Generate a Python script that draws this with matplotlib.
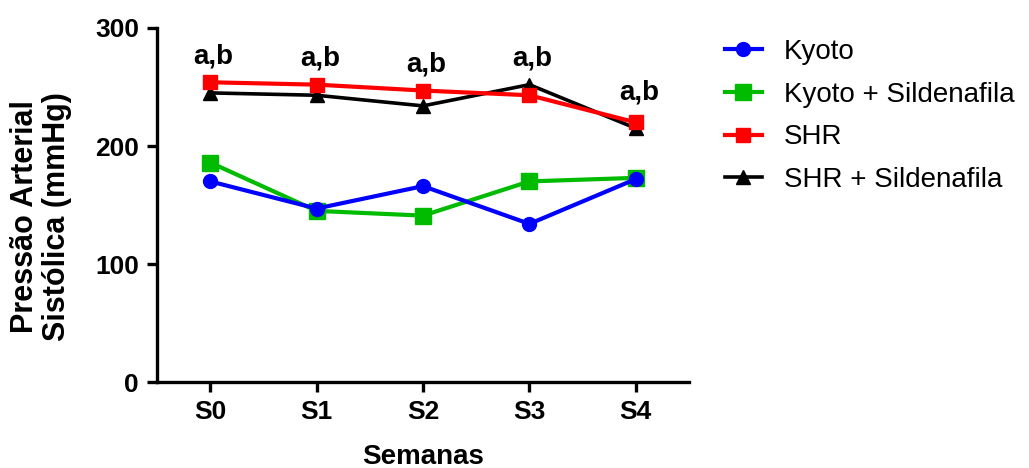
import matplotlib
matplotlib.use("Agg")
import matplotlib.pyplot as plt

plt.rcParams['font.family'] = ['Liberation Sans', 'DejaVu Sans']

# data
semanas = ["S0", "S1", "S2", "S3", "S4"]
kyoto = [170, 147, 166, 134, 172]
kyoto_sild = [186, 145, 141, 170, 173]
shr = [254, 252, 247, 243, 220]
shr_sild = [245, 243, 234, 252, 215]
anot = ["a,b", "a,b", "a,b", "a,b", "a,b"]
anot_y = [276, 274, 269, 274, 245]

fig = plt.figure(figsize=(10.29, 4.68), dpi=100)
ax = fig.add_axes([157/1029, 1 - 382/468, (689 - 157)/1029, (382 - 28)/468])

x = list(range(len(semanas)))
ax.plot(x, kyoto, color='#0000ff', lw=3, marker='o', ms=10, label='Kyoto', zorder=3)
ax.plot(x, kyoto_sild, color='#00bb00', lw=3, marker='s', ms=12, label='Kyoto + Sildenafila', zorder=2)
ax.plot(x, shr, color='#ff0000', lw=3, marker='s', ms=10, label='SHR', zorder=3)
ax.plot(x, shr_sild, color='black', lw=2.6, marker='^', ms=10, label='SHR + Sildenafila', zorder=2)

for xi, t, yv in zip(x, anot, anot_y):
    ax.text(xi + 0.03, yv, t, ha='center', va='center', fontsize=20, fontweight='bold')

ax.set_xlim(-0.5, 4.5)
ax.set_ylim(0, 300)
ax.set_xticks(x)
ax.set_xticklabels(semanas)
ax.set_yticks([0, 100, 200, 300])

for s in ['top', 'right']:
    ax.spines[s].set_visible(False)
for s in ['left', 'bottom']:
    ax.spines[s].set_linewidth(2.4)
ax.tick_params(width=2.4, length=7, labelsize=19, pad=6)
for lab in ax.get_xticklabels() + ax.get_yticklabels():
    lab.set_fontweight('bold')

ax.set_ylabel("Pressão Arterial\nSistólica (mmHg)", fontsize=22, fontweight='bold',
              linespacing=1.1)
ax.yaxis.set_label_coords(-0.16, 0.466)
ax.text(0.5, -0.212, "Semanas", transform=ax.transAxes, ha='center', va='center',
        fontsize=20, fontweight='bold')

fig.legend(loc='upper left', bbox_to_anchor=(725/1029, 1 - 39/468), frameon=False,
           borderpad=0, borderaxespad=0,
           fontsize=20, handlelength=1.33, handletextpad=0.8, labelspacing=0.6)

fig.savefig("out.png", dpi=100)
